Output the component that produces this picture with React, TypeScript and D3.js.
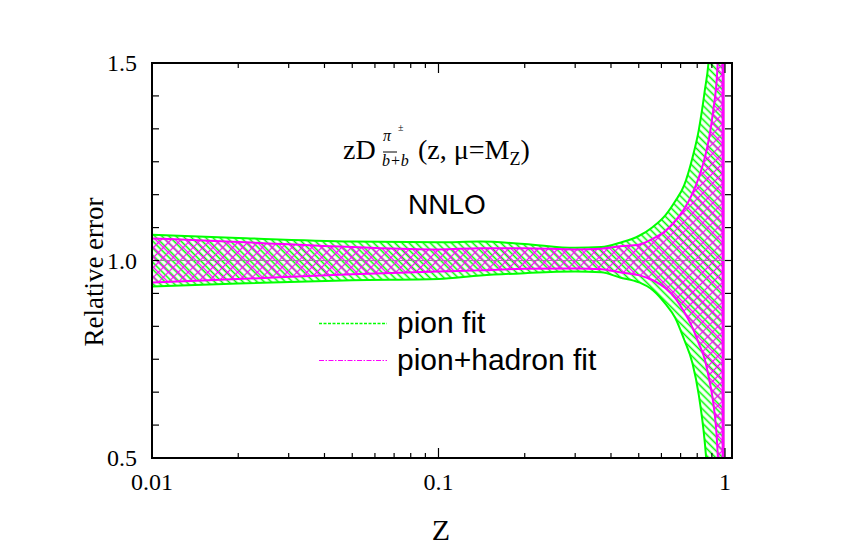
import React from "react";
import * as d3 from "d3";

// ---- data ----
const zGrid = [0.01, 0.02, 0.05, 0.1, 0.14, 0.2, 0.3, 0.37, 0.43, 0.5, 0.56, 0.62, 0.67, 0.72, 0.77, 0.81, 0.85, 0.88, 0.91, 0.94, 0.97, 0.988];
const pionUpper = [1.065, 1.057, 1.048, 1.046, 1.048, 1.042, 1.032, 1.034, 1.045, 1.062, 1.085, 1.115, 1.15, 1.19, 1.26, 1.33, 1.43, 1.52, 1.75, 2.2, 3.0, 3.5];
const pionLower = [0.934, 0.942, 0.95, 0.953, 0.962, 0.968, 0.972, 0.97, 0.957, 0.945, 0.925, 0.89, 0.855, 0.8, 0.74, 0.66, 0.54, 0.4, 0.2, -0.3, -1.0, -1.5];
const hadUpper = [1.056, 1.047, 1.034, 1.028, 1.031, 1.031, 1.028, 1.03, 1.036, 1.04, 1.055, 1.075, 1.1, 1.13, 1.17, 1.21, 1.26, 1.31, 1.38, 1.48, 1.75, 3.5];
const hadLower = [0.944, 0.953, 0.965, 0.972, 0.975, 0.979, 0.98, 0.978, 0.97, 0.963, 0.95, 0.93, 0.905, 0.87, 0.83, 0.79, 0.75, 0.7, 0.64, 0.53, 0.25, -1.5];
const centralValue = [1.0, 1.0];
const centralZ = [0.01, 1.058];
const xMajorTicks = [0.01, 0.1, 1];
const xTickLabels = ["0.01", "0.1", "1"];
const yTickLabels = ["0.5", "1.0", "1.5"];
const yTickValues = [0.5, 1.0, 1.5];
const legendLabels = ["pion fit", "pion+hadron fit"];

const W = 850, H = 550;
const L = 152, R = 732, T = 63, B = 458;
const GREEN = "#00ff00";
const MAGENTA = "#ff00ff";
const SERIF = "'Liberation Serif', 'Times New Roman', serif";
const SANS = "'Liberation Sans', Arial, sans-serif";

export default function App() {
  const x = d3.scaleLog().domain([0.01, 1.058]).range([L, R]);
  const y = d3.scaleLinear().domain([0.5, 1.5]).range([B, T]);

  const band = (up: number[], lo: number[]) =>
    d3.area<number>()
      .x((_, i) => x(zGrid[i]))
      .y0((_, i) => y(lo[i]))
      .y1((_, i) => y(up[i]))
      .curve(d3.curveMonotoneX)(zGrid) as string;

  const edge = (vals: number[]) =>
    d3.line<number>()
      .x((_, i) => x(zGrid[i]))
      .y((d) => y(d))
      .curve(d3.curveMonotoneX)(vals) as string;

  const pionBand = band(pionUpper, pionLower);
  const hadBand = band(hadUpper, hadLower);

  const centralLine = d3.line<number>().x((_, i) => x(centralZ[i])).y((d) => y(d))(centralValue) as string;

  const minorX: number[] = [];
  [0.01, 0.1, 1].forEach((dec) => {
    for (let k = 2; k <= 9; k++) {
      const v = dec * k;
      if (v < 1.058) minorX.push(v);
    }
  });
  const yMinor = d3.range(0, 13).map((k) => 0.5 + k / 12);

  return (
    <svg width={W} height={H} style={{ position: "absolute", left: 0, top: 0, background: "#fff" }}>
      <defs>
        <clipPath id="plotClip">
          <rect x={L} y={T} width={R - L} height={B - T} />
        </clipPath>
        <pattern id="greenHatch" width={5} height={5} patternUnits="userSpaceOnUse" patternTransform="rotate(45)">
          <line x1={0} y1={2.5} x2={5} y2={2.5} stroke={GREEN} strokeWidth={1.6} />
        </pattern>
        <pattern id="magHatch" width={7} height={7} patternUnits="userSpaceOnUse" patternTransform="rotate(45)">
          <line x1={0} y1={3.5} x2={7} y2={3.5} stroke={MAGENTA} strokeWidth={1.2} />
          <line x1={3.5} y1={0} x2={3.5} y2={7} stroke={MAGENTA} strokeWidth={1.2} />
        </pattern>
      </defs>

      <g clipPath="url(#plotClip)">
        <path d={pionBand} fill="url(#greenHatch)" />
        <path d={hadBand} fill="url(#magHatch)" />
        <path d={edge(pionUpper)} fill="none" stroke={GREEN} strokeWidth={2} />
        <path d={edge(pionLower)} fill="none" stroke={GREEN} strokeWidth={2} />
        <line x1={x(0.988)} x2={x(0.988)} y1={T} y2={B} stroke={GREEN} strokeWidth={1.5} />
        <path d={edge(hadUpper)} fill="none" stroke={MAGENTA} strokeWidth={2} />
        <path d={edge(hadLower)} fill="none" stroke={MAGENTA} strokeWidth={2} />
        <line x1={x(0.985)} x2={x(0.985)} y1={T} y2={B} stroke={MAGENTA} strokeWidth={3} />
        <path d={centralLine} fill="none" stroke="#80a080" strokeWidth={1} />
        <path d={centralLine} fill="none" stroke="#b070b0" strokeWidth={1} strokeDasharray="6,2,2,2" />
      </g>

      <rect x={L} y={T} width={R - L} height={B - T} fill="none" stroke="#000" strokeWidth={2} />

      {xMajorTicks.map((v) => (
        <g key={"xM" + v}>
          <line x1={x(v)} x2={x(v)} y1={B} y2={B - 10} stroke="#000" strokeWidth={1.2} />
          <line x1={x(v)} x2={x(v)} y1={T} y2={T + 10} stroke="#000" strokeWidth={1.2} />
        </g>
      ))}
      {minorX.map((v) => (
        <g key={"xm" + v}>
          <line x1={x(v)} x2={x(v)} y1={B} y2={B - 5} stroke="#000" strokeWidth={1.2} />
          <line x1={x(v)} x2={x(v)} y1={T} y2={T + 5} stroke="#000" strokeWidth={1.2} />
        </g>
      ))}
      {yMinor.map((v) => (
        <g key={"ym" + v}>
          <line x1={L} x2={L + 7} y1={y(v)} y2={y(v)} stroke="#000" strokeWidth={1.2} />
          <line x1={R} x2={R - 7} y1={y(v)} y2={y(v)} stroke="#000" strokeWidth={1.2} />
        </g>
      ))}

      {xMajorTicks.map((v, i) => (
        <text key={"xl" + v} x={x(v)} y={490} textAnchor="middle" fontFamily={SERIF} fontSize={24} fill="#000">
          {xTickLabels[i]}
        </text>
      ))}
      {yTickValues.map((v, i) => (
        <text key={"yl" + v} x={137} y={y(v) + 8} textAnchor="end" fontFamily={SERIF} fontSize={24} fill="#000">
          {yTickLabels[i]}
        </text>
      ))}

      <text x={441} y={540} textAnchor="middle" fontFamily={SERIF} fontSize={30} fill="#000">Z</text>
      <text transform="translate(103,272) rotate(-90)" textAnchor="middle" fontFamily={SERIF} fontSize={27} fill="#000">
        Relative error
      </text>

      <g fontFamily={SERIF} fill="#000">
        <text x={343} y={159} fontSize={28}>zD</text>
        <text x={383} y={141} fontSize={16} fontStyle="italic">π</text>
        <text x={398} y={131} fontSize={10}>±</text>
        <text x={382} y={166} fontSize={16} fontStyle="italic">b+b</text>
        <line x1={383} x2={397} y1={152} y2={152} stroke="#000" strokeWidth={1} />
        <text x={418} y={159} fontSize={28}>
          (z, μ=M<tspan dy={6} fontSize={18}>Z</tspan><tspan dy={-6}>)</tspan>
        </text>
      </g>
      <text x={408} y={214} fontFamily={SANS} fontSize={28} fill="#000">NNLO</text>

      <line x1={319} x2={387} y1={323.5} y2={323.5} stroke={GREEN} strokeWidth={1.3} strokeDasharray="3,1.5" />
      <line x1={319} x2={387} y1={360.5} y2={360.5} stroke={MAGENTA} strokeWidth={1.2} strokeDasharray="5,1.5,1.5,1.5" />
      <text x={397} y={333} fontFamily={SANS} fontSize={30} fill="#000">{legendLabels[0]}</text>
      <text x={397} y={370} fontFamily={SANS} fontSize={30} fill="#000">{legendLabels[1]}</text>
    </svg>
  );
}
